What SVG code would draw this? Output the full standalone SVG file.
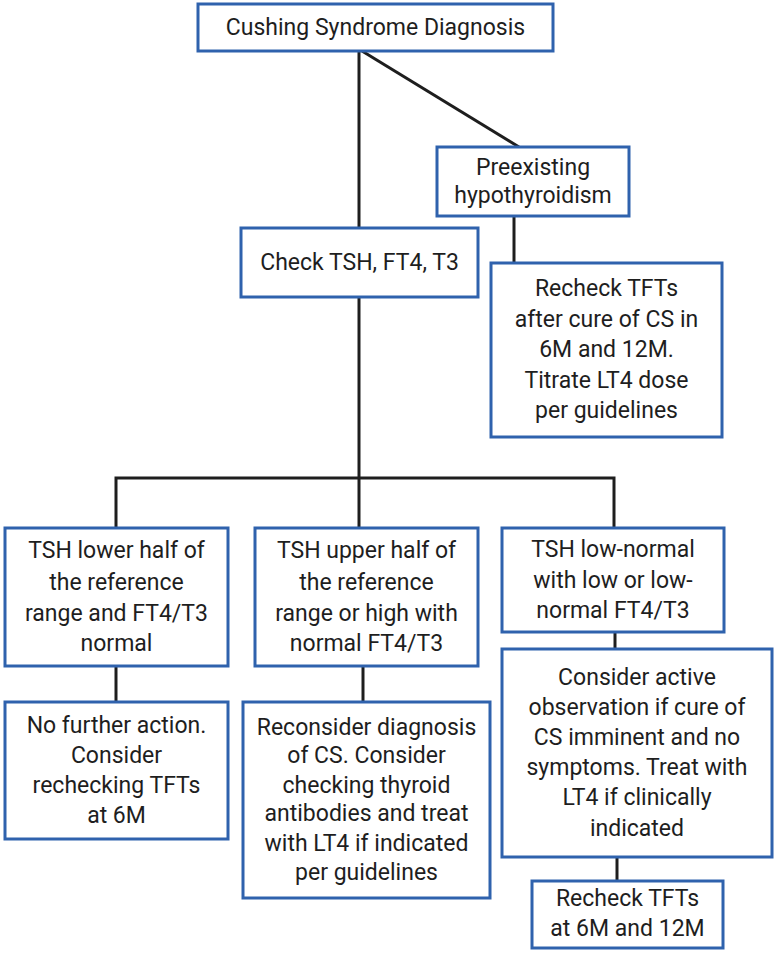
<svg xmlns="http://www.w3.org/2000/svg" width="777" height="955" viewBox="0 0 777 955">
<style>
.box{fill:#fff;stroke:#2f62ad;stroke-width:3}
.ln{stroke:#1e1e1e;stroke-width:3;fill:none}
text{font-family:Roboto,"Liberation Sans",sans-serif;font-size:23px;fill:#1e1e1e;text-anchor:middle}
</style>
<rect width="777" height="955" fill="#fff"/>
<g id="connectors">
<line class="ln" x1="359" y1="51" x2="359" y2="228"/>
<line class="ln" x1="362" y1="51" x2="519" y2="147"/>
<line class="ln" x1="514" y1="216" x2="514" y2="263"/>
<line class="ln" x1="359" y1="297" x2="359" y2="478"/>
<polyline class="ln" points="116,528 116,478 614,478 614,528"/>
<line class="ln" x1="359" y1="478" x2="359" y2="528"/>
<line class="ln" x1="116" y1="666" x2="116" y2="702"/>
<line class="ln" x1="363" y1="666" x2="363" y2="702"/>
<line class="ln" x1="615" y1="632" x2="615" y2="649"/>
<line class="ln" x1="617" y1="857" x2="617" y2="881"/>
</g>
<g id="n-cushing">
<rect class="box" x="198" y="4" width="355" height="47"/>
<text x="375.5" y="35">Cushing Syndrome Diagnosis</text>
</g>
<g id="n-preexisting">
<rect class="box" x="437" y="147" width="192" height="69"/>
<text x="533" y="175">Preexisting</text>
<text x="533" y="203">hypothyroidism</text>
</g>
<g id="n-check">
<rect class="box" x="241" y="228" width="237" height="69"/>
<text x="359.5" y="270">Check TSH, FT4, T3</text>
</g>
<g id="n-recheck-cure">
<rect class="box" x="491" y="263" width="231" height="174"/>
<text x="606.5" y="296">Recheck TFTs</text>
<text x="606.5" y="327">after cure of CS in</text>
<text x="606.5" y="357">6M and 12M.</text>
<text x="606.5" y="388">Titrate LT4 dose</text>
<text x="606.5" y="418">per guidelines</text>
</g>
<g id="n-lower">
<rect class="box" x="5" y="528" width="223" height="138"/>
<text x="116.5" y="558">TSH lower half of</text>
<text x="116.5" y="590">the reference</text>
<text x="116.5" y="621">range and FT4/T3</text>
<text x="116.5" y="651">normal</text>
</g>
<g id="n-upper">
<rect class="box" x="255" y="528" width="223" height="138"/>
<text x="366.5" y="558">TSH upper half of</text>
<text x="366.5" y="590">the reference</text>
<text x="366.5" y="621">range or high with</text>
<text x="366.5" y="651">normal FT4/T3</text>
</g>
<g id="n-lownormal">
<rect class="box" x="502" y="528" width="222" height="104"/>
<text x="613" y="557">TSH low-normal</text>
<text x="613" y="588">with low or low-</text>
<text x="613" y="618">normal FT4/T3</text>
</g>
<g id="n-nofurther">
<rect class="box" x="5" y="702" width="223" height="137"/>
<text x="116.5" y="733">No further action.</text>
<text x="116.5" y="763">Consider</text>
<text x="116.5" y="793">rechecking TFTs</text>
<text x="116.5" y="823">at 6M</text>
</g>
<g id="n-reconsider">
<rect class="box" x="243" y="702" width="247" height="196"/>
<text x="366.5" y="735">Reconsider diagnosis</text>
<text x="366.5" y="763">of CS. Consider</text>
<text x="366.5" y="793">checking thyroid</text>
<text x="366.5" y="821">antibodies and treat</text>
<text x="366.5" y="851">with LT4 if indicated</text>
<text x="366.5" y="880">per guidelines</text>
</g>
<g id="n-active">
<rect class="box" x="502" y="649" width="270" height="208"/>
<text x="637" y="685">Consider active</text>
<text x="637" y="715">observation if cure of</text>
<text x="637" y="745">CS imminent and no</text>
<text x="637" y="775">symptoms. Treat with</text>
<text x="637" y="805">LT4 if clinically</text>
<text x="637" y="836">indicated</text>
</g>
<g id="n-recheck-final">
<rect class="box" x="532" y="881" width="191" height="67"/>
<text x="627.5" y="906">Recheck TFTs</text>
<text x="627.5" y="936">at 6M and 12M</text>
</g>
</svg>
